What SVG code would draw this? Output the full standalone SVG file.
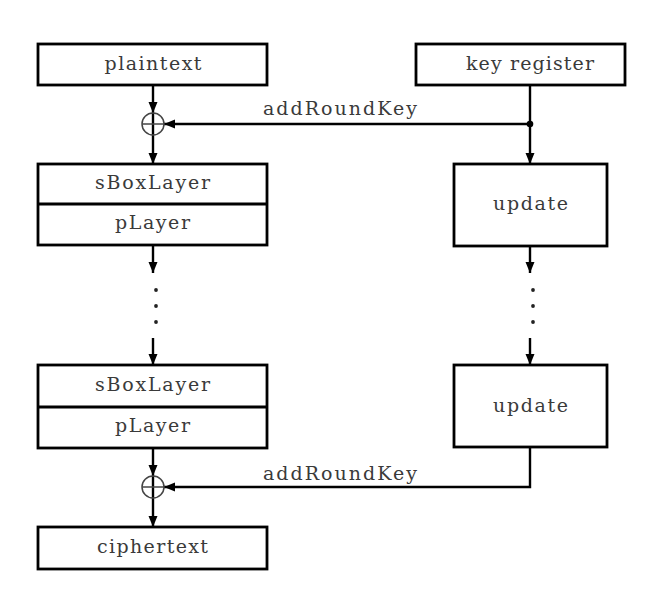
<svg xmlns="http://www.w3.org/2000/svg" width="659" height="607" viewBox="0 0 659 607">
<defs>
<marker id="arr" markerUnits="userSpaceOnUse" markerWidth="12" markerHeight="10" refX="11" refY="4.5" orient="auto">
<path d="M0,0 L11,4.5 L0,9 Z" fill="#000"/>
</marker>
</defs>
<style>
.box{fill:#fff;stroke:#000;stroke-width:2.8}
.t{font-family:"DejaVu Serif","Liberation Serif",serif;font-size:19px;fill:#3a3a3a;text-anchor:middle}
.lbl{font-family:"DejaVu Serif","Liberation Serif",serif;font-size:19px;fill:#3a3a3a}
.c{stroke:#000;stroke-width:2.4;fill:none}
.x{stroke:#444;stroke-width:1.5;fill:none}
.dot{fill:#222}
</style>
<rect width="659" height="607" fill="#fff"/>
<g id="connectors">
<line class="c" x1="153" y1="85" x2="153" y2="113" marker-end="url(#arr)"/>
<line class="c" x1="153" y1="113" x2="153" y2="164" marker-end="url(#arr)"/>
<line class="c" x1="530" y1="85" x2="530" y2="164" marker-end="url(#arr)"/>
<line class="c" x1="530" y1="124" x2="164" y2="124" marker-end="url(#arr)"/>
<circle cx="530" cy="124" r="3.3" fill="#000"/>
<line class="c" x1="153" y1="245" x2="153" y2="273" marker-end="url(#arr)"/>
<line class="c" x1="153" y1="338" x2="153" y2="365" marker-end="url(#arr)"/>
<line class="c" x1="530" y1="246" x2="530" y2="273" marker-end="url(#arr)"/>
<line class="c" x1="530" y1="338" x2="530" y2="365" marker-end="url(#arr)"/>
<line class="c" x1="153" y1="448" x2="153" y2="476" marker-end="url(#arr)"/>
<line class="c" x1="153" y1="476" x2="153" y2="527" marker-end="url(#arr)"/>
<polyline class="c" points="530,447 530,487 164,487" marker-end="url(#arr)"/>
<circle class="dot" cx="156" cy="290" r="1.9"/>
<circle class="dot" cx="156" cy="306" r="1.9"/>
<circle class="dot" cx="156" cy="322" r="1.9"/>
<circle class="dot" cx="533" cy="290" r="1.9"/>
<circle class="dot" cx="533" cy="306" r="1.9"/>
<circle class="dot" cx="533" cy="322" r="1.9"/>
<text class="lbl" x="263" y="115" textLength="154" lengthAdjust="spacing">addRoundKey</text>
<text class="lbl" x="263" y="480" textLength="154" lengthAdjust="spacing">addRoundKey</text>
</g>
<g id="xor1">
<circle class="x" cx="153" cy="124" r="11"/>
<line class="x" x1="142" y1="124" x2="164" y2="124"/>
</g>
<g id="xor2">
<circle class="x" cx="153" cy="487" r="11"/>
<line class="x" x1="142" y1="487" x2="164" y2="487"/>
</g>
<g id="plaintext">
<rect class="box" x="38" y="44" width="229" height="41"/>
<text class="t" x="153" y="70" textLength="97" lengthAdjust="spacing">plaintext</text>
</g>
<g id="keyregister">
<rect class="box" x="416" y="44" width="209" height="41"/>
<text class="t" x="530" y="70" textLength="128" lengthAdjust="spacing">key register</text>
</g>
<g id="round1">
<rect class="box" x="38" y="164" width="229" height="81"/>
<line class="box" x1="38" y1="204" x2="267" y2="204"/>
<text class="t" x="152.5" y="189" textLength="115" lengthAdjust="spacing">sBoxLayer</text>
<text class="t" x="152.5" y="229" textLength="75" lengthAdjust="spacing">pLayer</text>
</g>
<g id="update1">
<rect class="box" x="454" y="164" width="153" height="82"/>
<text class="t" x="530.5" y="210" textLength="75" lengthAdjust="spacing">update</text>
</g>
<g id="round2">
<rect class="box" x="38" y="365" width="229" height="83"/>
<line class="box" x1="38" y1="407" x2="267" y2="407"/>
<text class="t" x="152.5" y="391" textLength="115" lengthAdjust="spacing">sBoxLayer</text>
<text class="t" x="152.5" y="432" textLength="75" lengthAdjust="spacing">pLayer</text>
</g>
<g id="update2">
<rect class="box" x="454" y="365" width="153" height="82"/>
<text class="t" x="530.5" y="412" textLength="75" lengthAdjust="spacing">update</text>
</g>
<g id="ciphertext">
<rect class="box" x="38" y="527" width="229" height="42"/>
<text class="t" x="152.5" y="553" textLength="111" lengthAdjust="spacing">ciphertext</text>
</g>
</svg>
